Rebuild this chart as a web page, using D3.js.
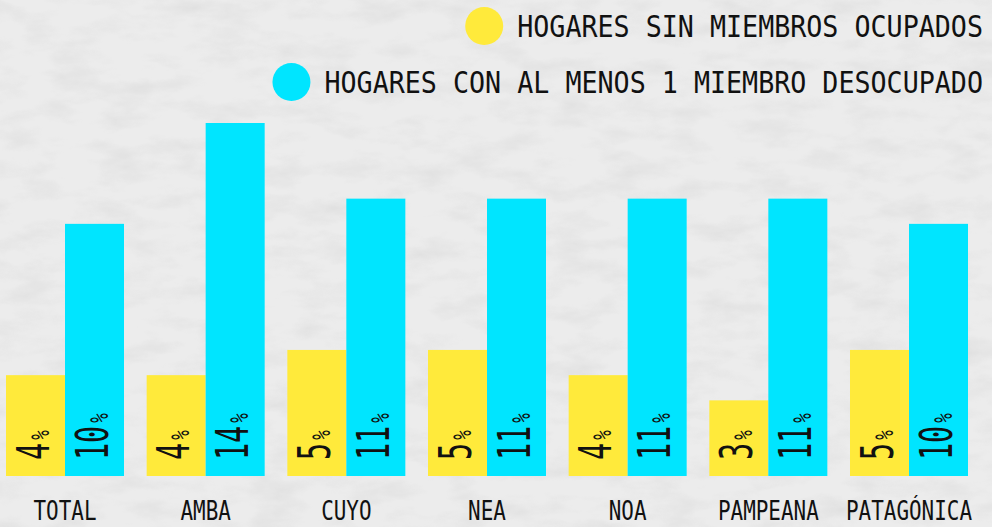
<!DOCTYPE html>
<html>
<head>
<meta charset="utf-8">
<script src="https://cdn.jsdelivr.net/npm/d3@7/dist/d3.min.js"></script>
<style>
html,body{margin:0;padding:0;background:#ebebeb;}
svg{display:block;}
</style>
</head>
<body>
<svg id="chart" width="992" height="527"></svg>
<script>
const categories = ["TOTAL","AMBA","CUYO","NEA","NOA","PAMPEANA","PATAGÓNICA"];
const sinOcupados = [4,4,5,5,4,3,5];
const conDesocupado = [10,14,11,11,11,11,10];
const seriesNames = ["HOGARES SIN MIEMBROS OCUPADOS","HOGARES CON AL MENOS 1 MIEMBRO DESOCUPADO"];
const seriesColors = ["#ffea3b","#00e5ff"];

const W = 992, H = 527;
const FONT = "'DejaVu Sans Mono', monospace";
const svg = d3.select("#chart");

// background texture
const defs = svg.append("defs");
const f = defs.append("filter").attr("id","tex").attr("x",0).attr("y",0).attr("width","100%").attr("height","100%");
f.append("feTurbulence").attr("type","fractalNoise").attr("baseFrequency","0.02 0.05").attr("numOctaves",4).attr("seed",7).attr("result","n");
f.append("feColorMatrix").attr("in","n").attr("type","matrix")
 .attr("values","0 0 0 0 0.55  0 0 0 0 0.55  0 0 0 0 0.55  0 0 0 -2.2 1.25").attr("result","c");
f.append("feComposite").attr("in","c").attr("in2","SourceGraphic").attr("operator","in");
svg.append("rect").attr("width",W).attr("height",H).attr("fill","#ececec");
svg.append("rect").attr("width",W).attr("height",H).attr("fill","#ececec").attr("filter","url(#tex)").attr("opacity",0.25);

const baseY = 476;
const groupW = 118;
const step = (968 - 6 - groupW) / 6;
const xs = d3.scalePoint().domain(categories).range([6, 6 + step*6]);
const xSub = d3.scaleBand().domain([0,1]).range([0, groupW]);
const y = d3.scaleLinear().domain([0,14]).range([baseY, 123]);

const data = categories.map((c,i)=>({cat:c, vals:[sinOcupados[i], conDesocupado[i]]}));

const g = svg.selectAll("g.grp").data(data).enter().append("g")
  .attr("class","grp")
  .attr("transform", d=>`translate(${xs(d.cat)},0)`);

g.selectAll("rect").data(d=>d.vals.map((v,k)=>({v,k}))).enter().append("rect")
  .attr("x", d=>xSub(d.k))
  .attr("width", xSub.bandwidth())
  .attr("y", d=>y(d.v))
  .attr("height", d=>baseY - y(d.v))
  .attr("fill", d=>seriesColors[d.k]);

// value labels rotated
g.selectAll("text.val").data(d=>d.vals.map((v,k)=>({v,k}))).enter().append("text")
  .attr("class","val")
  .attr("transform", d=>`translate(${xSub(d.k)+xSub.bandwidth()/2+13},${baseY-16}) rotate(-90) scale(0.63,1)`)
  .attr("font-family", FONT)
  .attr("font-size", 45)
  .attr("fill","#111")
  .each(function(d){
    const t = d3.select(this);
    t.append("tspan").text(d.v);
    t.append("tspan").attr("font-size",25).attr("dx",5).text("%");
  });

// category labels
g.append("text")
  .attr("transform", `translate(${groupW/2},520) scale(0.79,1)`)
  .attr("text-anchor","middle")
  .attr("font-family", FONT)
  .attr("font-size", 26.5)
  .attr("fill","#111")
  .text(d=>d.cat);

// legend
const legY = [37, 93];
const circY = [26, 82];
seriesNames.forEach((name,i)=>{
  const sc = 0.89;
  const t = svg.append("text")
    .attr("transform", `translate(983,${legY[i]}) scale(${sc},1)`)
    .attr("text-anchor","end")
    .attr("font-family", FONT)
    .attr("font-size", 30)
    .attr("fill","#111")
    .text(name);
  const len = t.node().getComputedTextLength()*sc;
  svg.append("circle")
    .attr("cx", 983 - len - 33)
    .attr("cy", circY[i])
    .attr("r", 19)
    .attr("fill", seriesColors[i]);
});
</script>
</body>
</html>
